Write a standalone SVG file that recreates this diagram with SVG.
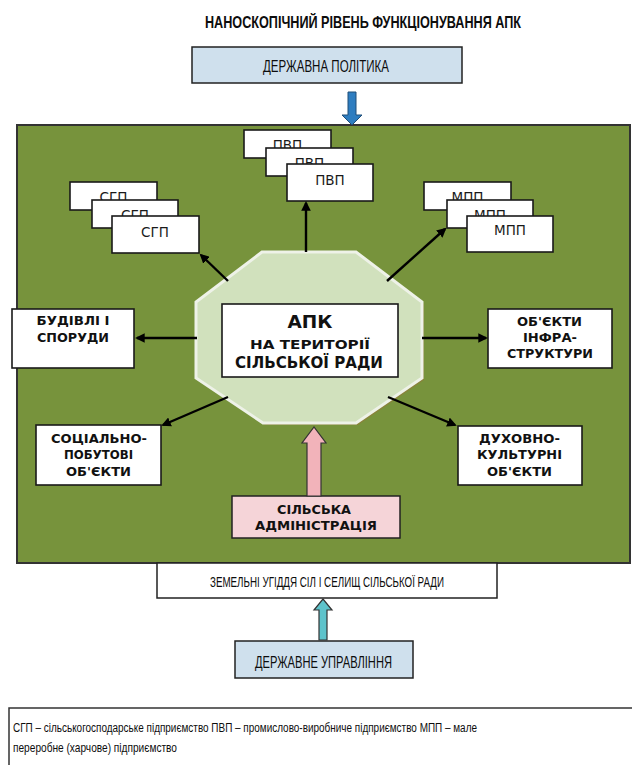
<svg xmlns="http://www.w3.org/2000/svg" width="632" height="765" viewBox="0 0 632 765">
<defs>
<style>
.cond{font-family:"Liberation Sans",Arial,sans-serif;fill:#0d0d0d;}
.reg{font-family:"DejaVu Sans","Noto Sans",sans-serif;font-size:13.5px;fill:#1a1a1a;text-anchor:middle;}
.bold{font-family:"DejaVu Sans","Noto Sans",sans-serif;font-weight:bold;fill:#111;text-anchor:middle;}
.box{fill:#ffffff;stroke:#1a1a1a;stroke-width:1.6;}
.blue{fill:#cfe0ed;stroke:#222;stroke-width:1.5;}
.conn{stroke:#000;stroke-width:2.4;fill:none;marker-end:url(#ah);}
</style>
<marker id="ah" viewBox="0 0 10 10" refX="8" refY="5" markerWidth="4" markerHeight="4" orient="auto" markerUnits="strokeWidth">
<path d="M0,0 L10,5 L0,10 z" fill="#000"/>
</marker>
</defs>
<rect x="0" y="0" width="632" height="765" fill="#ffffff"/>

<g id="title">
<text class="cond" x="205" y="28" font-size="17" font-weight="bold" textLength="316" lengthAdjust="spacingAndGlyphs">НАНОСКОПІЧНИЙ РІВЕНЬ ФУНКЦІОНУВАННЯ АПК</text>
</g>

<g id="derzh-polityka">
<rect class="blue" x="192" y="47" width="270" height="36"/>
<text class="cond" x="263" y="72" font-size="16.5" textLength="126" lengthAdjust="spacingAndGlyphs">ДЕРЖАВНА ПОЛІТИКА</text>
</g>

<g id="field">
<rect x="17" y="125" width="613" height="438" fill="#77933c" stroke="#333" stroke-width="2"/>
</g>

<g id="pvp">
<rect class="box" x="244" y="130" width="87" height="28"/>
<text class="reg" x="287.5" y="150">ПВП</text>
<rect class="box" x="266" y="148" width="87" height="28"/>
<text class="reg" x="309.5" y="168">ПВП</text>
<rect class="box" x="287" y="164" width="86" height="37"/>
<text class="reg" x="330" y="185">ПВП</text>
</g>

<g id="sgp">
<rect class="box" x="70" y="182" width="87" height="28"/>
<text class="reg" x="113.5" y="202">СГП</text>
<rect class="box" x="92" y="200" width="86" height="28"/>
<text class="reg" x="135" y="220">СГП</text>
<rect class="box" x="112" y="216" width="87" height="37"/>
<text class="reg" x="155" y="237">СГП</text>
</g>

<g id="mpp">
<rect class="box" x="424" y="182" width="87" height="28"/>
<text class="reg" x="467.5" y="202">МПП</text>
<rect class="box" x="447" y="200" width="86" height="28"/>
<text class="reg" x="490" y="220">МПП</text>
<rect class="box" x="467" y="216" width="86" height="36"/>
<text class="reg" x="510" y="235">МПП</text>
</g>

<g id="apk">
<polygon points="264,254 358,254 424,304 424,380 358,425 265,425 198,380 198,304" fill="#a0703a" opacity="0.45"/>
<polygon points="262,252 356,252 422,302 422,378 356,423 263,423 196,378 196,302" fill="#d1e1bd" stroke="#eef2e8" stroke-width="3"/>
<rect class="box" x="222" y="304" width="176" height="73"/>
<text class="bold" x="310" y="328" font-size="18" textLength="45" lengthAdjust="spacingAndGlyphs">АПК</text>
<text class="bold" x="310" y="349" font-size="13" textLength="120" lengthAdjust="spacingAndGlyphs">НА ТЕРИТОРІЇ</text>
<text class="bold" x="309" y="368" font-size="15" textLength="148" lengthAdjust="spacingAndGlyphs">СІЛЬСЬКОЇ РАДИ</text>
</g>

<g id="budivli">
<rect class="box" x="12" y="309" width="122" height="59"/>
<text class="bold" x="73" y="325" font-size="11.5" textLength="73" lengthAdjust="spacingAndGlyphs">БУДІВЛІ І</text>
<text class="bold" x="73" y="342" font-size="11.5" textLength="72" lengthAdjust="spacingAndGlyphs">СПОРУДИ</text>
</g>

<g id="infra">
<rect class="box" x="488" y="309" width="124" height="59"/>
<text class="bold" x="549.5" y="326" font-size="11.5" textLength="65" lengthAdjust="spacingAndGlyphs">ОБ'ЄКТИ</text>
<text class="bold" x="550" y="342" font-size="11.5" textLength="54" lengthAdjust="spacingAndGlyphs">ІНФРА-</text>
<text class="bold" x="550" y="358" font-size="11.5" textLength="86" lengthAdjust="spacingAndGlyphs">СТРУКТУРИ</text>
</g>

<g id="social">
<rect class="box" x="36" y="425" width="125" height="60"/>
<text class="bold" x="99" y="443" font-size="12" textLength="96" lengthAdjust="spacingAndGlyphs">СОЦІАЛЬНО-</text>
<text class="bold" x="98.5" y="459" font-size="12" textLength="69" lengthAdjust="spacingAndGlyphs">ПОБУТОВІ</text>
<text class="bold" x="98.5" y="476" font-size="12" textLength="65" lengthAdjust="spacingAndGlyphs">ОБ'ЄКТИ</text>
</g>

<g id="duhovno">
<rect class="box" x="458" y="426" width="124" height="59"/>
<text class="bold" x="519.5" y="443" font-size="12" textLength="81" lengthAdjust="spacingAndGlyphs">ДУХОВНО-</text>
<text class="bold" x="519.5" y="459" font-size="12" textLength="85" lengthAdjust="spacingAndGlyphs">КУЛЬТУРНІ</text>
<text class="bold" x="519.5" y="476" font-size="12" textLength="65" lengthAdjust="spacingAndGlyphs">ОБ'ЄКТИ</text>
</g>

<g id="admin">
<rect x="232" y="496" width="168" height="42" fill="#f5d4d8" stroke="#222" stroke-width="1.5"/>
<text class="bold" x="314" y="514" font-size="12" textLength="74" lengthAdjust="spacingAndGlyphs">СІЛЬСЬКА</text>
<text class="bold" x="316" y="530" font-size="12" textLength="122" lengthAdjust="spacingAndGlyphs">АДМІНІСТРАЦІЯ</text>
</g>

<g id="zemelni">
<rect x="157" y="563" width="340" height="35" fill="#ffffff" stroke="#222" stroke-width="1.5"/>
<text class="cond" x="210" y="587" font-size="14.5" textLength="234" lengthAdjust="spacingAndGlyphs">ЗЕМЕЛЬНІ УГІДДЯ СІЛ І СЕЛИЩ СІЛЬСЬКОЇ РАДИ</text>
</g>

<g id="derzh-upravlinnya">
<rect class="blue" x="235" y="641" width="178" height="37"/>
<text class="cond" x="255" y="668" font-size="16.5" textLength="137" lengthAdjust="spacingAndGlyphs">ДЕРЖАВНЕ УПРАВЛІННЯ</text>
</g>

<g id="legend">
<path d="M632,708 H9 V765" fill="none" stroke="#333" stroke-width="1.5"/>
<text class="cond" x="13" y="732" font-size="12.5" textLength="464" lengthAdjust="spacingAndGlyphs">СГП – сільськогосподарське підприємство ПВП – промислово-виробниче підприємство МПП – мале</text>
<text class="cond" x="13" y="752" font-size="13.5" textLength="164" lengthAdjust="spacingAndGlyphs">переробне (харчове) підприємство</text>
</g>

<g id="connectors">
<path d="M348,92 h8 v23 h6 l-10,10 l-10,-10 h6 z" fill="#2e7dc0" stroke="#1f4e79" stroke-width="1"/>
<path d="M307,496 v-53 h-5 l12,-16 l12,16 h-5 v53 z" fill="#f2b3ba" stroke="#333" stroke-width="1.2"/>
<path d="M319,640 v-30 h-5 l9,-11 l9,11 h-5 v30 z" fill="#5ec3cb" stroke="#333" stroke-width="1.2"/>
<line class="conn" x1="306" y1="252" x2="306" y2="203"/>
<line class="conn" x1="228" y1="281" x2="201" y2="255"/>
<line class="conn" x1="387" y1="281" x2="445" y2="229"/>
<line class="conn" x1="197" y1="338" x2="137" y2="338"/>
<line class="conn" x1="422" y1="338" x2="486" y2="338"/>
<line class="conn" x1="228" y1="397" x2="163" y2="425"/>
<line class="conn" x1="388" y1="397" x2="455" y2="425"/>
</g>
</svg>
